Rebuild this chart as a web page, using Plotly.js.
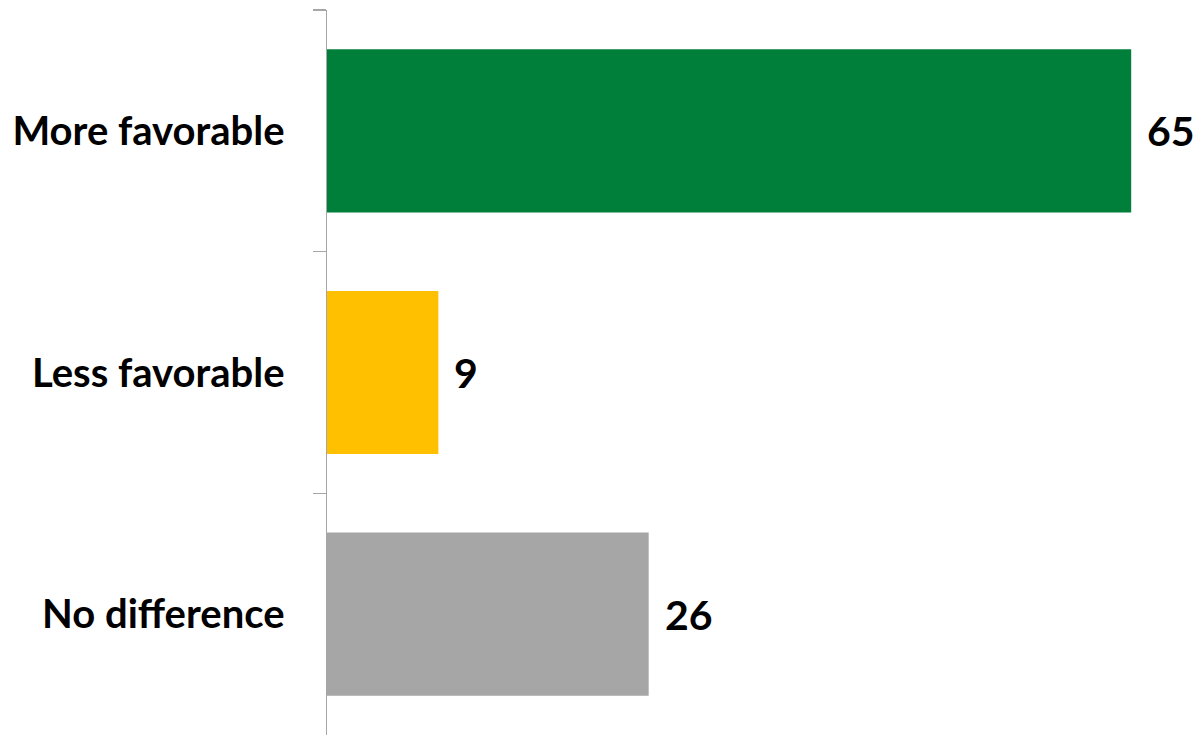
<!DOCTYPE html>
<html>
<head>
<meta charset="utf-8">
<script src="https://cdn.plot.ly/plotly-3.0.1.min.js"></script>
<style>html,body{margin:0;padding:0;background:#fff;}#chart{width:1198px;height:735px;}</style>
</head>
<body>
<div id="chart"></div>
<script>
var categories = ["More favorable", "Less favorable", "No difference"];
var values = [65, 9, 26];
var barColors = ["#007F3A", "#FFC000", "#A6A6A6"];
var valueLabels = values.map(function (v) { return String(v); });

var trace = {
  type: "bar",
  orientation: "h",
  y: categories,
  x: values,
  marker: { color: barColors, line: { width: 0 } },
  hoverinfo: "none",
  showlegend: false
};

var annotations = categories.map(function (c, i) {
  return {
    x: values[i], y: c, xref: "x", yref: "y",
    text: valueLabels[i], showarrow: false,
    xanchor: "left", yanchor: "middle", xshift: 14,
    font: { family: "Lato, 'Open Sans', sans-serif", size: 41, color: "#000", weight: 700 }
  };
});

var layout = {
  width: 1198, height: 735,
  margin: { l: 327, r: 0, t: 10, b: 0, pad: 0 },
  paper_bgcolor: "#ffffff", plot_bgcolor: "#ffffff",
  bargap: 0.325,
  xaxis: { range: [0, 70.4], visible: false, showgrid: false, zeroline: false, fixedrange: true },
  yaxis: {
    type: "category",
    categoryorder: "array", categoryarray: categories,
    range: [2.5, -0.5],
    showline: true, linecolor: "#A6A6A6", linewidth: 1.5,
    ticks: "outside", tickson: "boundaries", ticklen: 13, tickcolor: "#A6A6A6", tickwidth: 1.5,
    ticklabelstandoff: 33,
    showgrid: false, zeroline: false,
    tickfont: { family: "Lato, 'Open Sans', sans-serif", size: 40, color: "#000", weight: 700 }
  },
  annotations: annotations
};

Plotly.newPlot("chart", [trace], layout, { displayModeBar: false, staticPlot: true });
</script>
</body>
</html>
